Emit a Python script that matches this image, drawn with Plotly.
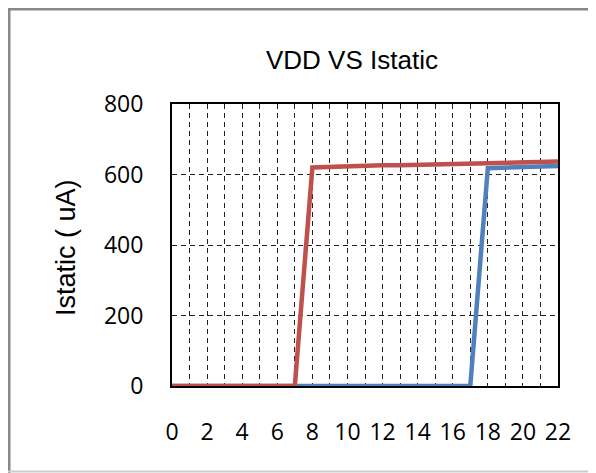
import plotly.graph_objects as go

vdd = list(range(0, 23))
red_ua = [0, 0, 0, 0, 0, 0, 0, 0, 620, 622, 624, 625, 626, 626, 627, 628, 629, 630, 631, 632, 633, 634, 637]
blue_ua = [0]*18 + [618, 619, 620, 622, 624]
x_ticks = list(range(0, 23, 2))
y_ticks = [0, 200, 400, 600, 800]

fig = go.Figure()
fig.add_trace(go.Scatter(x=vdd, y=blue_ua, mode="lines", line=dict(color="#4F81BD", width=4.5), showlegend=False))
fig.add_trace(go.Scatter(x=vdd, y=red_ua, mode="lines", line=dict(color="#C0504D", width=4.5), showlegend=False))

OFF = 8  # page offset of the figure
W, H = 596, 473
L, T = 172 - OFF, 104 - OFF
R, B = W - (558 - OFF), H - (386 - OFF)
pw, ph = W - L - R, H - T - B

def px(x):
    return (x - OFF - L) / pw

def py(y):
    return (H - B - (y - OFF)) / ph

tick_font = dict(family="Open Sans, Lato", size=23, color="black")
GD = "5px,4px"

fig.update_layout(
    width=W, height=H,
    margin=dict(l=L, r=R, t=T, b=B),
    paper_bgcolor="white", plot_bgcolor="white",
    xaxis=dict(range=[0, 22], tickvals=x_ticks, showgrid=True, gridcolor="#222222", griddash=GD, gridwidth=1,
               minor=dict(dtick=1, showgrid=True, gridcolor="#222222", griddash=GD, gridwidth=1),
               showline=True, linecolor="black", linewidth=2, mirror=True, zeroline=False,
               ticks="", ticklabelstandoff=24, tickfont=tick_font),
    yaxis=dict(range=[0, 800], tickvals=y_ticks, showgrid=True, gridcolor="#222222", griddash=GD, gridwidth=1,
               showline=True, linecolor="black", linewidth=2, mirror=True, zeroline=False,
               ticks="", ticklabelstandoff=22, tickfont=tick_font),
)
fig.add_annotation(text="VDD VS Istatic", xref="paper", yref="paper", x=px(352), y=py(60),
                   xanchor="center", yanchor="middle", showarrow=False,
                   font=dict(family="Liberation Sans, Arial", size=26, color="black"))
fig.add_annotation(text="Istatic ( uA)", xref="paper", yref="paper", x=px(66), y=py(248),
                   xanchor="center", yanchor="middle", showarrow=False, textangle=-90,
                   font=dict(family="Liberation Sans, Arial", size=27, color="black"))
fig.add_shape(type="line", xref="paper", yref="paper", x0=px(9), x1=px(9), y0=py(8), y1=py(480),
              line=dict(color="#888888", width=3))
fig.add_shape(type="line", xref="paper", yref="paper", x0=px(8), x1=px(610), y0=py(9), y1=py(9),
              line=dict(color="#888888", width=3))
fig.add_shape(type="line", xref="paper", yref="paper", x0=px(8), x1=px(610), y0=py(471.5), y1=py(471.5),
              line=dict(color="#cccccc", width=2))

fig.write_html("out.html")
